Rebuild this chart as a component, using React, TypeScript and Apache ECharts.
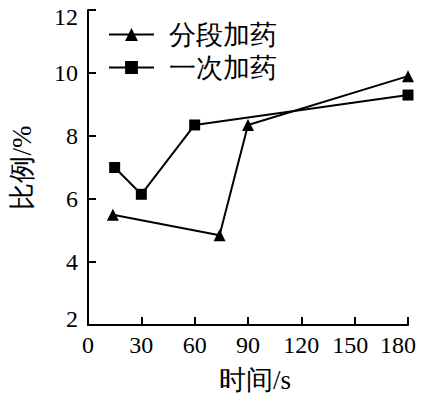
import React, { useEffect, useRef } from "react";
import * as echarts from "echarts";

const seriesNames = ["分段加药", "一次加药"];
const segTime = [14, 74, 90, 180];
const segRatio = [5.5, 4.85, 8.35, 9.9];
const onceTime = [15, 30, 60, 180];
const onceRatio = [7.0, 6.15, 8.35, 9.3];
const xTicks = [0, 30, 60, 90, 120, 150, 180];
const yTicks = [2, 4, 6, 8, 10, 12];

const FONT = "Liberation Serif";

export default function App() {
  const ref = useRef<HTMLDivElement>(null);
  useEffect(() => {
    const chart = echarts.init(ref.current!, undefined, { renderer: "svg" });
    const axisCommon = {
      axisLine: { show: true, lineStyle: { color: "#000", width: 2 } },
      axisTick: { show: true, inside: true, length: 8, lineStyle: { color: "#000", width: 2 } },
      splitLine: { show: false },
    };
    const xMax = xTicks[xTicks.length - 1];
    const yMin = yTicks[0];
    const yMax = yTicks[yTicks.length - 1];
    chart.setOption({
      animation: false,
      backgroundColor: "#fff",
      textStyle: { fontFamily: FONT },
      grid: { left: 80, top: 10, right: 15, bottom: 71, containLabel: false },
      legend: {
        orient: "vertical",
        left: 103,
        top: 16,
        itemWidth: 45,
        itemHeight: 16,
        itemGap: 6,
        data: seriesNames,
        textStyle: { fontFamily: FONT, fontSize: 27, color: "#000", padding: [0, 0, 0, 10] },
      },
      xAxis: {
        type: "value",
        min: xTicks[0],
        max: xMax,
        interval: 30,
        name: "时间/s",
        nameLocation: "middle",
        nameGap: 41,
        nameTextStyle: { fontFamily: FONT, fontSize: 27, color: "#000", padding: [0, 0, 0, 14] },
        ...axisCommon,
        axisLabel: {
          fontFamily: FONT,
          fontSize: 24,
          color: "#000",
          margin: 8,
          formatter: (v: number) => (v === xMax ? `{e|${v}}` : v === 150 ? `{p|${v}}` : `${v}`),
          rich: {
            e: { fontFamily: FONT, fontSize: 24, color: "#000", padding: [0, 20, 0, 0] },
            p: { fontFamily: FONT, fontSize: 24, color: "#000", padding: [0, 9, 0, 0] },
          },
        },
      },
      yAxis: {
        type: "value",
        min: yMin,
        max: yMax,
        interval: 2,
        name: "比例/%",
        nameLocation: "middle",
        nameGap: 53,
        nameTextStyle: { fontFamily: FONT, fontSize: 27, color: "#000" },
        ...axisCommon,
        axisLabel: {
          fontFamily: FONT,
          fontSize: 24,
          color: "#000",
          margin: 10,
          formatter: (v: number) => (v === yMax ? `{t|${v}}` : v === yMin ? `{b|${v}}` : `${v}`),
          rich: {
            t: { fontFamily: FONT, fontSize: 24, color: "#000", padding: [14, 0, 0, 0] },
            b: { fontFamily: FONT, fontSize: 24, color: "#000", padding: [0, 0, 12, 0] },
          },
        },
      },
      series: [
        {
          name: seriesNames[0],
          type: "line",
          data: segTime.map((t, i) => [t, segRatio[i]]),
          symbol: "triangle",
          symbolSize: 12,
          showAllSymbol: true,
          lineStyle: { color: "#000", width: 2 },
          itemStyle: { color: "#000" },
        },
        {
          name: seriesNames[1],
          type: "line",
          data: onceTime.map((t, i) => [t, onceRatio[i]]),
          symbol: "rect",
          symbolSize: 11,
          showAllSymbol: true,
          lineStyle: { color: "#000", width: 2 },
          itemStyle: { color: "#000" },
        },
      ],
    });
    return () => chart.dispose();
  }, []);
  return <div ref={ref} style={{ width: 423, height: 398, position: "absolute", left: 0, top: 0 }} />;
}
